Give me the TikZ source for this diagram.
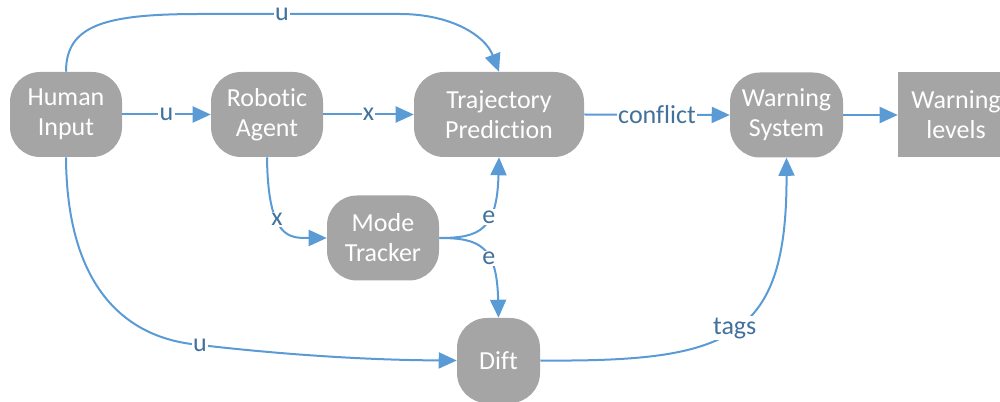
\documentclass[tikz,border=0pt]{standalone}
\usepackage{fontspec}
\setmainfont{Carlito}[Ligatures={NoCommon,NoRare,NoContextual}]
\usetikzlibrary{arrows.meta}
\definecolor{boxgray}{HTML}{A5A5A5}
\definecolor{linkblue}{HTML}{5B9BD5}
\definecolor{labelblue}{HTML}{41719C}

\begin{document}
\begin{tikzpicture}[x=0.75pt,y=-0.75pt,
  block/.style={fill=boxgray, text=white, rounded corners=22.5pt,
    minimum width=84pt, minimum height=63.75pt, align=center, inner sep=0pt,
    font=\fontsize{19.5}{22.5}\selectfont},
  conn/.style={draw=linkblue, line width=1.5pt, -{Triangle[length=13.5pt,width=12pt]}},
  lbl/.style={fill=white, text=labelblue, inner sep=1pt,
    font=\fontsize{19.5}{22}\selectfont}]

\useasboundingbox (0,0) rectangle (1000,402);
\clip (0,0) rectangle (1000,402);

% blocks
\node[block] (hi) at (66,114.5) {Human\\Input};
\node[block] (ra) at (267,114.5) {Robotic\\Agent};
\node[block, minimum width=127.5pt] (tp) at (499,114.5) {Trajectory\\Predic\kern0pt tion};
\node[block, minimum width=84.75pt] (ws) at (786.5,115) {Warning\\System};
\node[block, rounded corners=0pt, minimum width=87pt] (wl) at (956,115) {Warning\\levels};
\node[block] (mt) at (383,238) {Mode\\Tracker};
\node[block, minimum width=62.25pt] (dift) at (498.5,360.5) {Dift};

% straight links along the main row
\draw[conn] (hi.east) -- node[lbl]{u} (ra.west);
\draw[conn] (ra.east) -- node[lbl]{x} (tp.west);
\draw[conn] (tp.east) -- node[lbl]{conf\kern0pt lic\kern0pt t} (ws.west);
\draw[conn] (ws.east) -- (wl.west);

% human input over the top to the predictor
\draw[conn] (hi.north) .. controls (66,25) and (105,14) .. (200,14)
  -- node[lbl, pos=0.41]{u} (400,14)
  .. controls (450,14) and (485,35) .. (tp.north);

% agent state to the mode tracker
\draw[conn] (ra.south) .. controls (268,240) and (290,238) .. node[lbl, pos=0.38]{x} (mt.west);

% mode tracker outputs
\draw[conn] (mt.east) .. controls (480,238) and (497,230) .. node[lbl, pos=0.6]{e} (tp.south);
\draw[conn] (mt.east) .. controls (480,238) and (497,246) .. node[lbl, pos=0.6]{e} (dift.north);

% human input down to the drift block
\draw[conn] (hi.south) .. controls (67,330) and (170,342) .. (200,345) node[lbl]{u}
  .. controls (260,352) and (350,360) .. (dift.west);

% tags to the warning system
\draw[conn] (dift.east) .. controls (730,362) and (787,340) .. node[lbl, pos=0.5]{tags} (ws.south);

\end{tikzpicture}
\end{document}
